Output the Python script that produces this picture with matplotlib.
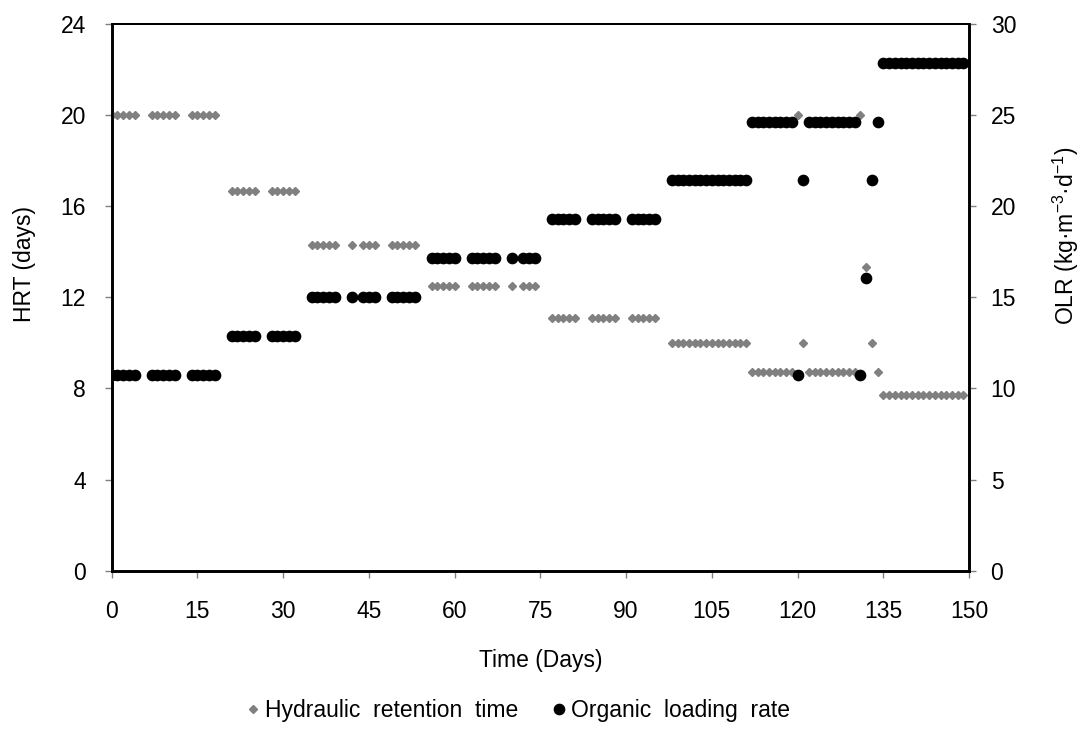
"""HRT and OLR over the operation period."""
import numpy as np
import matplotlib
matplotlib.use("Agg")
import matplotlib.pyplot as plt
from matplotlib.lines import Line2D

plt.rcParams['font.family'] = ['Liberation Sans', 'DejaVu Sans']
plt.rcParams['mathtext.default'] = 'regular'

# Operating phases: first day, last day (inclusive), HRT (days), OLR (kg m-3 d-1)
seg_start = [0, 7, 14, 21, 28, 35, 42, 44, 49, 56, 63, 70, 72, 77, 84, 91,
             98, 112, 120, 121, 122, 131, 132, 133, 134, 135]
seg_end = [4, 11, 18, 25, 32, 39, 42, 46, 53, 60, 67, 70, 74, 81, 88, 95,
           111, 119, 120, 121, 130, 131, 132, 133, 134, 149]
seg_hrt = [20, 20, 20, 16.67, 16.67, 14.29, 14.29, 14.29, 14.29, 12.5, 12.5,
           12.5, 12.5, 11.11, 11.11, 11.11, 10, 8.7, 20, 10, 8.7, 20, 13.33,
           10, 8.7, 7.69]
seg_olr = [10.71, 10.71, 10.71, 12.86, 12.86, 15.0, 15.0, 15.0, 15.0, 17.14,
           17.14, 17.14, 17.14, 19.29, 19.29, 19.29, 21.43, 24.64, 10.71,
           21.43, 24.64, 10.71, 16.07, 21.43, 24.64, 27.86]

x_ticks = [0, 15, 30, 45, 60, 75, 90, 105, 120, 135, 150]
hrt_ticks = [0, 4, 8, 12, 16, 20, 24]
olr_ticks = [0, 5, 10, 15, 20, 25, 30]

days, hrt, olr = [], [], []
for s, e, hv, ov in zip(seg_start, seg_end, seg_hrt, seg_olr):
    for d in range(s, e + 1):
        days.append(d)
        hrt.append(hv)
        olr.append(ov)

FS = 16.5
GREY = '#808080'

fig = plt.figure(figsize=(10.84, 7.31), dpi=100)
ax = fig.add_axes([0.103, 0.2193, 0.791, 0.748])
ax2 = ax.twinx()

ax.plot(days, hrt, linestyle='none', marker='D', ms=4.3, color=GREY,
        mec=GREY, zorder=3)
ax2.plot(days, olr, linestyle='none', marker='o', ms=7.4, color='black',
         zorder=4)

ax.set_xlim(0, 150)
ax.set_ylim(0, 24)
ax2.set_ylim(0, 30)
ax.set_xticks(x_ticks)
ax.set_yticks(hrt_ticks)
ax2.set_yticks(olr_ticks)

for a in (ax, ax2):
    for sp in a.spines.values():
        sp.set_linewidth(1.9)
        sp.set_color('black')
    a.spines['top'].set_linewidth(1.4)
    a.tick_params(direction='out', length=5, width=1, color=GREY,
                  labelsize=FS)
ax.tick_params(axis='x', pad=16)
ax.tick_params(axis='y', pad=13.5)
ax2.tick_params(axis='y', pad=10.5)

fig.text(0.5 * (0.103 + 0.894), 1 - 660 / 731, 'Time (Days)', fontsize=FS,
         ha='center', va='center')
fig.text(25 / 1084, 1 - 264 / 731, 'HRT (days)', fontsize=FS,
         rotation=90, ha='center', va='center')
fig.text(1066 / 1084, 1 - 236 / 731, 'OLR (kg·m$^{-3}$·d$^{-1}$)',
         fontsize=FS, rotation=90, ha='center', va='center')

handles = [Line2D([], [], linestyle='none', marker='D', ms=4, color=GREY),
           Line2D([], [], linestyle='none', marker='o', ms=7.4, color='black')]
fig.legend(handles, ['Hydraulic  retention  time', 'Organic  loading  rate'],
           loc='center', bbox_to_anchor=(517 / 1084, 1 - 711 / 731), ncol=2,
           frameon=False, fontsize=FS, handletextpad=0.13, handlelength=0.8,
           columnspacing=1.4, borderpad=0, borderaxespad=0)

fig.savefig('out.png', dpi=100)
